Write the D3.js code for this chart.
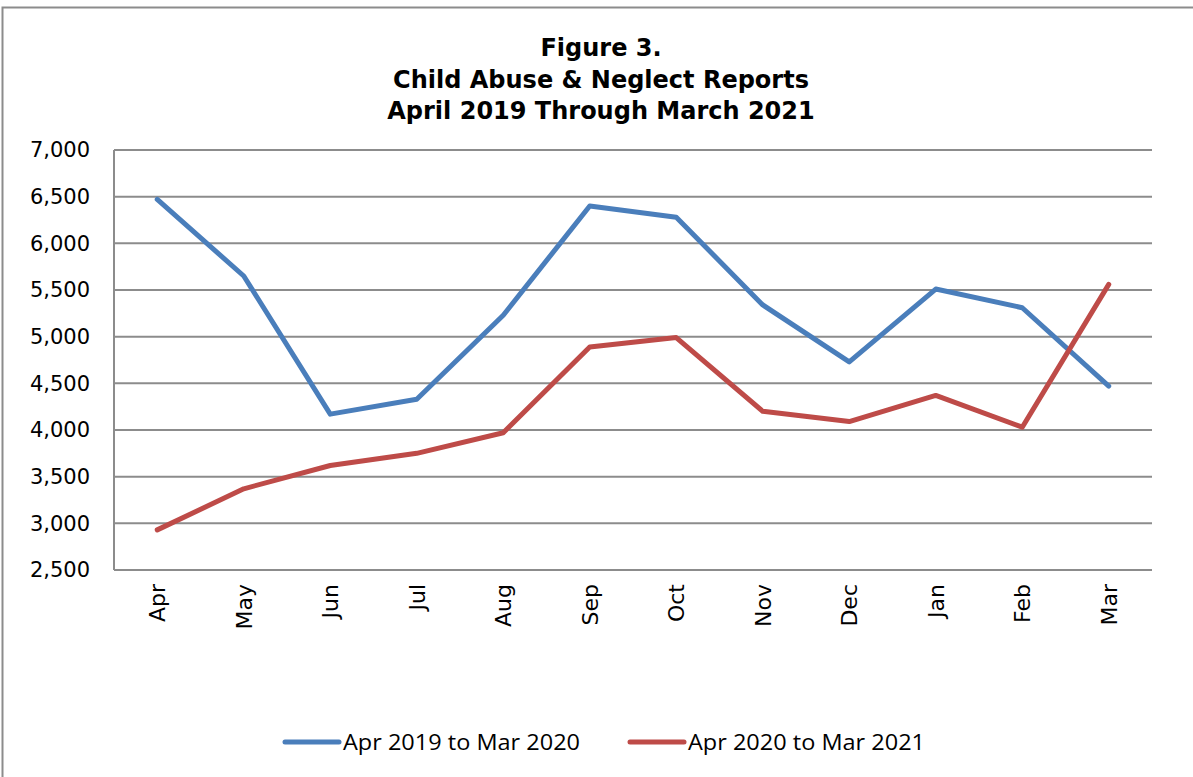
<!DOCTYPE html>
<html lang="en">
  <head>
    <meta charset="UTF-8" />
    <title>Child Abuse & Neglect Reports</title>
    <script src="https://d3js.org/d3.v7.min.js"></script>
    <style>
      body { margin: 0; background: #fff; }
    </style>
  </head>
  <body>
    <svg width="1193" height="777"></svg>
    <script>
      const months = ["Apr", "May", "Jun", "Jul", "Aug", "Sep", "Oct", "Nov", "Dec", "Jan", "Feb", "Mar"];
      const fy2019 = [6470, 5650, 4170, 4330, 5230, 6400, 6280, 5340, 4730, 5510, 5310, 4470];
      const fy2020 = [2930, 3370, 3620, 3750, 3970, 4890, 4990, 4200, 4090, 4370, 4030, 5560];
      const seriesNames = ["Apr 2019 to Mar 2020", "Apr 2020 to Mar 2021"];
      const titleLines = ["Figure 3.", "Child Abuse & Neglect Reports", "April 2019 Through March 2021"];
      const yTicks = [2500, 3000, 3500, 4000, 4500, 5000, 5500, 6000, 6500, 7000];

      const colors = ["#4a7ebb", "#be4b48"];
      const svg = d3.select("svg");

      // outer chart frame
      svg.append("rect")
        .attr("x", 2.5).attr("y", 7.5)
        .attr("width", 1200).attr("height", 800)
        .attr("fill", "none").attr("stroke", "#8c8c8c").attr("stroke-width", 2);

      const plotL = 114, plotR = 1152, plotT = 150, plotB = 570;

      const x = d3.scaleBand().domain(months).range([plotL, plotR]);
      const y = d3.scaleLinear().domain([2500, 7000]).range([plotB, plotT]);

      // title
      svg.append("g")
        .selectAll("text")
        .data(titleLines)
        .enter()
        .append("text")
        .attr("x", 601)
        .attr("y", (d, i) => 56 + i * 31.5)
        .attr("text-anchor", "middle")
        .attr("font-family", "DejaVu Sans")
        .attr("font-weight", "bold")
        .attr("font-size", "24px")
        .text(d => d);

      // gridlines
      svg.append("g")
        .selectAll("line")
        .data(yTicks)
        .enter()
        .append("line")
        .attr("x1", plotL).attr("x2", plotR)
        .attr("y1", d => y(d)).attr("y2", d => y(d))
        .attr("stroke", "#8c8c8c").attr("stroke-width", 2);

      svg.append("line")
        .attr("x1", plotL).attr("x2", plotL)
        .attr("y1", plotT).attr("y2", plotB)
        .attr("stroke", "#8c8c8c").attr("stroke-width", 2);

      // y axis labels
      const yAxis = d3.axisLeft(y).tickValues(yTicks).tickFormat(d3.format(",")).tickSize(0).tickPadding(24);
      const yg = svg.append("g").attr("transform", `translate(${plotL},0)`).call(yAxis);
      yg.select(".domain").remove();
      yg.selectAll("text")
        .attr("font-family", "DejaVu Sans")
        .attr("font-size", "21px")
        .attr("fill", "#000");

      // x axis labels rotated
      svg.append("g")
        .selectAll("text")
        .data(months)
        .enter()
        .append("text")
        .attr("transform", d => `translate(${x(d) + x.bandwidth() / 2 + 8},584) rotate(-90)`)
        .attr("text-anchor", "end")
        .attr("font-family", "DejaVu Sans")
        .attr("font-size", "22px")
        .text(d => d);

      const line = d3.line()
        .x((d, i) => x(months[i]) + x.bandwidth() / 2)
        .y(d => y(d));

      [fy2019, fy2020].forEach((s, k) => {
        svg.append("path")
          .datum(s)
          .attr("d", line)
          .attr("fill", "none")
          .attr("stroke", colors[k])
          .attr("stroke-width", 5)
          .attr("stroke-linejoin", "round")
          .attr("stroke-linecap", "round");
      });

      // legend
      const legendX = [285, 630];
      const lg = svg.append("g");
      seriesNames.forEach((name, k) => {
        lg.append("line")
          .attr("x1", legendX[k]).attr("x2", legendX[k] + 54)
          .attr("y1", 742).attr("y2", 742)
          .attr("stroke", colors[k]).attr("stroke-width", 5)
          .attr("stroke-linecap", "round");
        lg.append("text")
          .attr("x", legendX[k] + 58)
          .attr("y", 750)
          .attr("font-family", "Open Sans")
          .attr("font-size", "22px")
          .attr("textLength", 237)
          .attr("lengthAdjust", "spacingAndGlyphs")
          .text(name);
      });
    </script>
  </body>
</html>
